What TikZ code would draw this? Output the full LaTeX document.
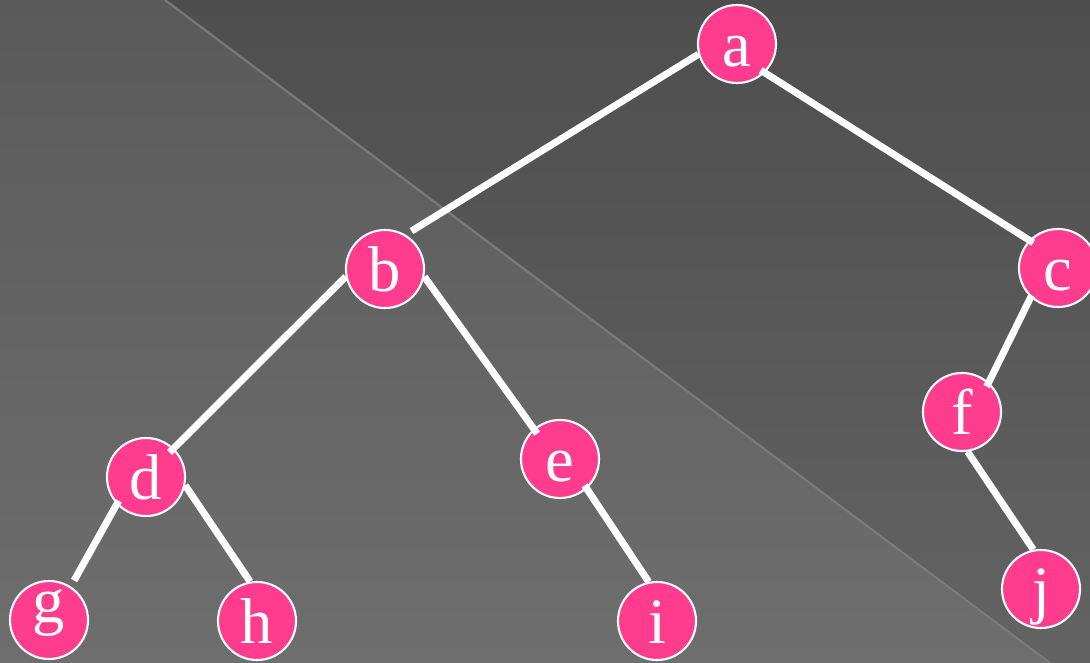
\documentclass[tikz,border=0pt]{standalone}
\usepackage{fontspec}
\setmainfont{Liberation Serif}
\definecolor{lowtop}{HTML}{5A5A5A}
\definecolor{lowbot}{HTML}{6E6E6E}
\definecolor{hightop}{HTML}{4E4E4E}
\definecolor{highbot}{HTML}{636363}
\definecolor{seam}{HTML}{7C7C7C}
\definecolor{nodepink}{HTML}{FF3C8E}

\begin{document}
\begin{tikzpicture}[x=0.025cm, y=-0.025cm,
  vertex/.style={circle, draw=white, line width=1.5pt, fill=nodepink, text=white,
    minimum size=1.95cm, inner sep=0pt, text height=37pt, text depth=5.5pt,
    font=\fontsize{46}{50}\selectfont},
  edge/.style={white, line width=5pt}]
\useasboundingbox (0,0) rectangle (1090,663);
% background split by the diagonal
\shade[top color=lowtop, bottom color=lowbot] (0,0) -- (165,0) -- (1050,663) -- (0,663) -- cycle;
\shade[top color=hightop, bottom color=highbot] (165,0) -- (1090,0) -- (1090,663) -- (1050,663) -- cycle;
\draw[seam, line width=1.4pt] (165,0) -- (1050,663);

% tree nodes
\node[vertex] (a) at (737,44) {a};
\node[vertex] (b) at (385,269) {b};
\node[vertex] (c) at (1058,268) {c};
\node[vertex] (d) at (146,477) {d};
\node[vertex] (e) at (560,459) {e};
\node[vertex] (f) at (962,412) {f};
\node[vertex, text height=25pt, text depth=21pt] (g) at (49,620) {g};
\node[vertex] (h) at (257,621) {h};
\node[vertex] (i) at (657,621) {i};
\node[vertex] (j) at (1041,589) {j};

% edges
\draw[edge, shorten >=0.17cm] (a.195) -- (b.59);
\draw[edge, shorten <=-0.12cm, shorten >=-0.12cm] (a.-46) -- (c.136);
\draw[edge, shorten <=-0.05cm, shorten >=-0.12cm] (c.227) -- (f.48);
\draw[edge] (f.278) -- (j.101);
\draw[edge, shorten >=-0.15cm] (b.191) -- (d.46);
\draw[edge, shorten >=-0.15cm] (b.-11) -- (e.131);
\draw[edge, shorten <=-0.1cm] (e.-48) -- (i.102);
\draw[edge, shorten <=-0.1cm, shorten >=0.17cm] (d.223) -- (g.57);
\draw[edge] (d.-12) -- (h.100);
\end{tikzpicture}
\end{document}
